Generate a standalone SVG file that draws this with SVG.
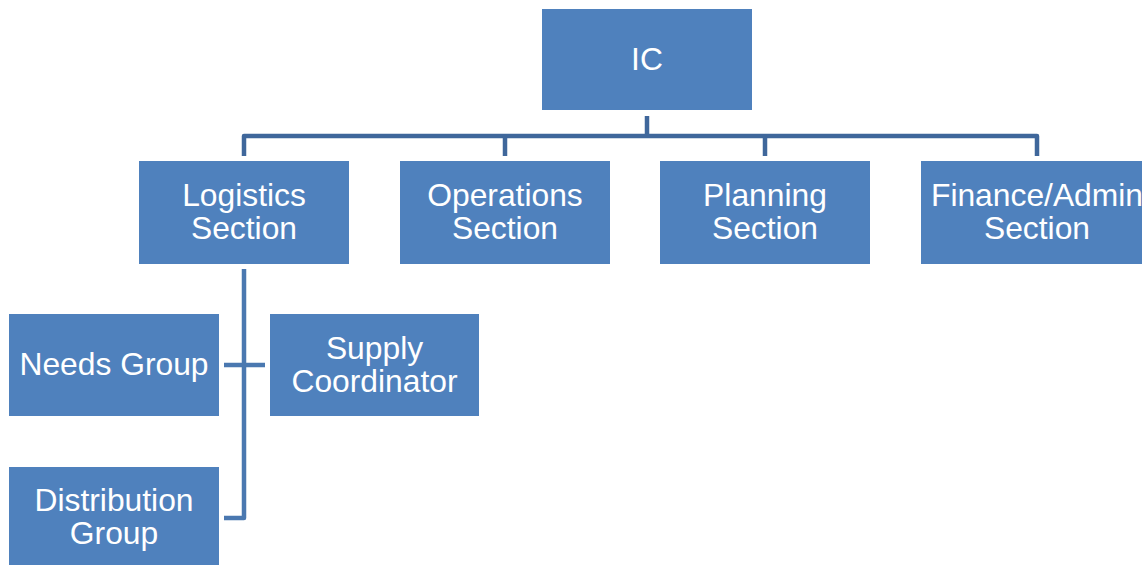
<svg xmlns="http://www.w3.org/2000/svg" width="1142" height="565" viewBox="0 0 1142 565">
<style>
.box{fill:#4F81BD;}
.t{font-family:"Liberation Sans",Arial,sans-serif;font-size:31.8px;fill:#FFFFFF;text-anchor:middle;}
.c{fill:none;stroke:#3F679B;stroke-width:4.5;stroke-linejoin:round;}
.c2{fill:none;stroke:#4A78B0;stroke-width:4.5;stroke-linejoin:round;}
</style>
<rect width="1142" height="565" fill="#FFFFFF"/>
<g id="connectors">
<path class="c" d="M647,116 V136"/>
<path class="c" d="M244,156 V136 H1037 V156"/>
<path class="c" d="M505,136 V156"/>
<path class="c" d="M765,136 V156"/>
<path class="c2" d="M244,269 V518 H224"/>
<path class="c2" d="M224,365 H265"/>
</g>
<g id="ic">
<rect class="box" x="542" y="9" width="210" height="101"/>
<text class="t" x="647" y="70">IC</text>
</g>
<g id="logistics">
<rect class="box" x="139" y="161" width="210" height="103"/>
<text class="t" x="244" y="206">Logistics</text>
<text class="t" x="244" y="238.5">Section</text>
</g>
<g id="operations">
<rect class="box" x="400" y="161" width="210" height="103"/>
<text class="t" x="505" y="206">Operations</text>
<text class="t" x="505" y="238.5">Section</text>
</g>
<g id="planning">
<rect class="box" x="660" y="161" width="210" height="103"/>
<text class="t" x="765" y="206">Planning</text>
<text class="t" x="765" y="238.5">Section</text>
</g>
<g id="finance">
<rect class="box" x="921" y="161" width="232" height="103"/>
<text class="t" x="1037" y="206">Finance/Admin</text>
<text class="t" x="1037" y="238.5">Section</text>
</g>
<g id="needs">
<rect class="box" x="9" y="314" width="210" height="102"/>
<text class="t" x="114" y="375">Needs Group</text>
</g>
<g id="supply">
<rect class="box" x="270" y="314" width="209" height="102"/>
<text class="t" x="374.5" y="358.5">Supply</text>
<text class="t" x="374.5" y="391.5">Coordinator</text>
</g>
<g id="distribution">
<rect class="box" x="9" y="467" width="210" height="110"/>
<text class="t" x="114" y="510.5">Distribution</text>
<text class="t" x="114" y="543.5">Group</text>
</g>
</svg>
